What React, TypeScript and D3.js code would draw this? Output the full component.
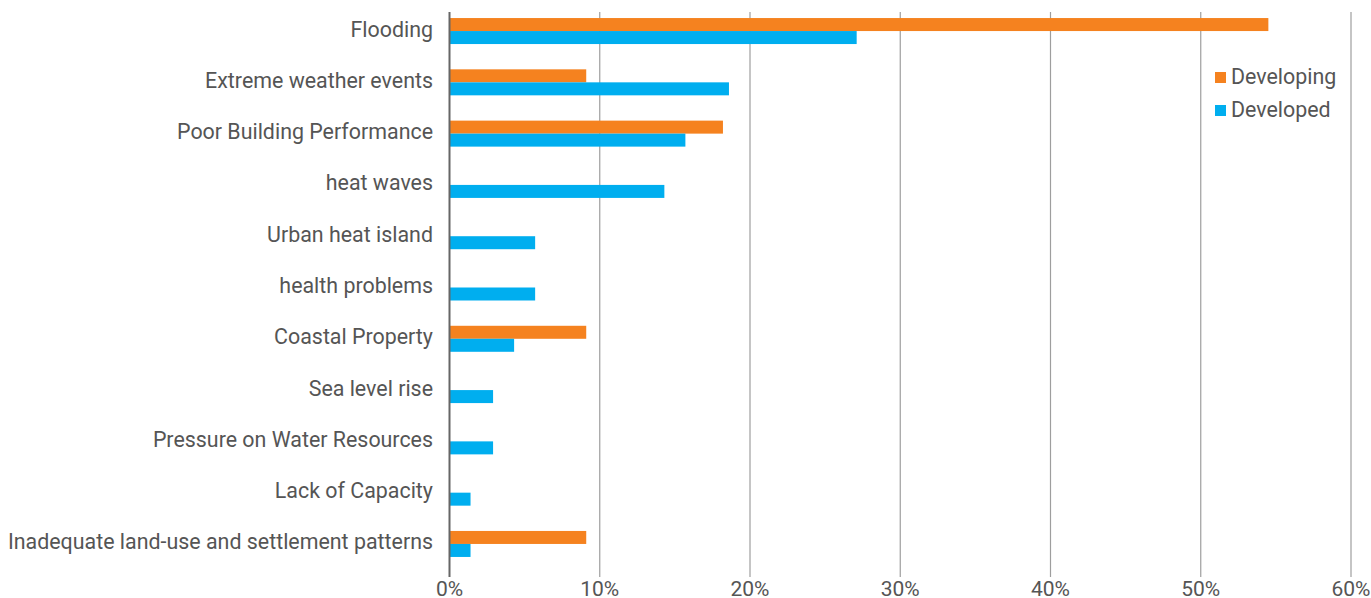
import React from "react";
import * as d3 from "d3";

const categories = [
  "Flooding",
  "Extreme weather events",
  "Poor Building Performance",
  "heat waves",
  "Urban heat island",
  "health problems",
  "Coastal Property",
  "Sea level rise",
  "Pressure on Water Resources",
  "Lack of Capacity",
  "Inadequate land-use and settlement patterns",
];
const developing = [54.5, 9.1, 18.2, 0, 0, 0, 9.1, 0, 0, 0, 9.1];
const developed = [27.1, 18.6, 15.7, 14.3, 5.7, 5.7, 4.3, 2.9, 2.9, 1.4, 1.4];
const seriesNames = ["Developing", "Developed"];
const seriesColors = ["#F5821F", "#00AEEF"];
const ticks = [0, 10, 20, 30, 40, 50, 60];

const W = 1371;
const H = 598;

export default function App() {
  const x = d3.scaleLinear().domain([0, 60]).range([449.5, 1351]);
  const y = d3.scaleBand<string>().domain(categories).range([5.4, 569.6]).padding(0);
  const sub = d3.scaleBand<string>().domain(seriesNames).range([0, 26]);
  const barOffset = (y.bandwidth() - 26) / 2;
  const font = "Roboto, 'Noto Sans', sans-serif";
  const data = [developing, developed];
  return (
    <svg width={W} height={H} style={{ position: "absolute", left: 0, top: 0, background: "#fff" }} fontFamily={font}>
      {ticks.map((t) => (
        <g key={t}>
          {t !== 0 && (
            <line x1={x(t)} x2={x(t)} y1={12} y2={577} stroke="#9e9e9e" strokeWidth={1.2} />
          )}
          <text x={x(t)} y={596} textAnchor="middle" fontSize={21} fill="#555">
            {t}%
          </text>
        </g>
      ))}
      {data.map((vals, si) =>
        vals.map((v, i) =>
          v > 0 ? (
            <rect
              key={si + "-" + i}
              x={x(0)}
              y={(y(categories[i]) as number) + barOffset + (sub(seriesNames[si]) as number)}
              width={x(v) - x(0)}
              height={sub.bandwidth()}
              fill={seriesColors[si]}
            />
          ) : null
        )
      )}
      <line x1={x(0)} x2={x(0)} y1={12} y2={577} stroke="#666" strokeWidth={2} />
      {categories.map((c) => (
        <text
          key={c}
          x={433}
          y={(y(c) as number) + y.bandwidth() / 2 + 5.5}
          textAnchor="end"
          fontSize={21.4}
          fill="#555"
        >
          {c}
        </text>
      ))}
      {seriesNames.map((s, i) => (
        <g key={s} transform={`translate(1215, ${72 + i * 33})`}>
          <rect x={0} y={0} width={11} height={11} fill={seriesColors[i]} />
          <text x={16} y={12} fontSize={21.4} fill="#555">
            {s}
          </text>
        </g>
      ))}
    </svg>
  );
}
